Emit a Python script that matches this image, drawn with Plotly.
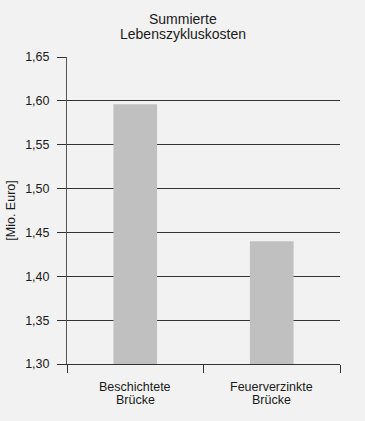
import plotly.graph_objects as go

categories = ["Beschichtete Brücke", "Feuerverzinkte Brücke"]
category_lines = [["Beschichtete", "Brücke"], ["Feuerverzinkte", "Brücke"]]
values = [1.596, 1.440]
tick_vals = [1.30, 1.35, 1.40, 1.45, 1.50, 1.55, 1.60, 1.65]
title_lines = ["Summierte", "Lebenszykluskosten"]
y_title = "[Mio. Euro]"

FONT = "Liberation Sans, Arial, sans-serif"
TXT = "#1a1a1a"

fig = go.Figure(go.Bar(x=categories, y=values,
                       marker=dict(color="#c0c0c0", line=dict(width=0)), width=0.32))

annotations = []
# title (two lines, tight line spacing)
for i, line in enumerate(title_lines):
    annotations.append(dict(text=line, xref="paper", yref="paper", x=(182.5 - 67) / 273, y=1,
                            xanchor="center", yanchor="middle", yshift=57 - 19 - 15 * i,
                            showarrow=False, font=dict(family=FONT, size=14, color=TXT)))
# category labels (two lines each)
for cat, lines in zip(categories, category_lines):
    for i, line in enumerate(lines):
        annotations.append(dict(text=line, xref="x", yref="paper", x=cat, y=0,
                                xanchor="center", yanchor="middle", yshift=-23 - 13 * i,
                                showarrow=False, font=dict(family=FONT, size=12.5, color=TXT)))

fig.update_layout(
    width=365, height=421,
    paper_bgcolor="#f2f2f2", plot_bgcolor="#f2f2f2",
    margin=dict(l=67, r=25, t=57, b=57, autoexpand=False),
    separators=",.",
    font=dict(family=FONT, size=12.5, color=TXT),
    showlegend=False,
    annotations=annotations,
)
fig.update_yaxes(range=[1.30, 1.65], tickvals=tick_vals, tickformat=".2f",
                 showgrid=True, gridcolor="#333", gridwidth=1,
                 ticks="outside", ticklen=9, tickcolor="#333",
                 ticklabelstandoff=5, automargin=False,
                 showline=True, linecolor="#555", linewidth=1,
                 zeroline=False,
                 title=dict(text=y_title, standoff=6, font=dict(size=12.5)))
fig.update_xaxes(showline=True, linecolor="#333", linewidth=1,
                 ticks="outside", tickson="boundaries", ticklen=8, tickcolor="#333",
                 showticklabels=False, showgrid=False, automargin=False)
fig.write_html("out.html", config={"displayModeBar": False},
               post_script="document.body.style.margin='0';document.body.style.background='#f2f2f2';")
